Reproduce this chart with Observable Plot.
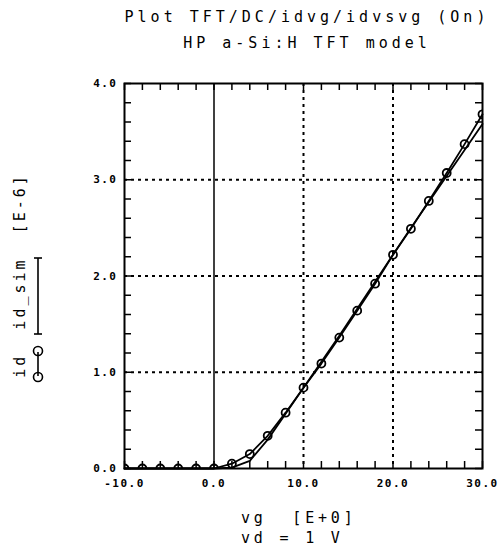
<!DOCTYPE html>
<html><head><meta charset="utf-8">
<script src="https://cdn.jsdelivr.net/npm/d3@7"></script>
<script src="https://cdn.jsdelivr.net/npm/@observablehq/plot@0.6"></script>
<style>
body{margin:0;background:#fff;}
#chart{width:498px;height:548px;}
</style></head><body><div id="chart"></div>
<script>
// ---- data ----
const vg     = [-10, -8, -6, -4, -2, 0, 2, 4, 6, 8, 10, 12, 14, 16, 18, 20, 22, 24, 26, 28, 30];
const idMeas = [0, 0, 0, 0, 0, 0, 0.05, 0.15, 0.34, 0.58, 0.84, 1.09, 1.36, 1.64, 1.92, 2.22, 2.49, 2.78, 3.07, 3.37, 3.68];
const idSim  = [0, 0, 0, 0, 0, 0, 0.01, 0.08, 0.30, 0.57, 0.84, 1.11, 1.38, 1.66, 1.94, 2.22, 2.50, 2.77, 3.04, 3.31, 3.58];
const xTickValues = [-10, 0, 10, 20, 30];
const yTickValues = [0, 1, 2, 3, 4];
const xGridValues = [10, 20];
const yGridValues = [1, 2, 3];
const xTickLabels = ["-10.0", "0.0", "10.0", "20.0", "30.0"];
const yTickLabels = ["0.0", "1.0", "2.0", "3.0", "4.0"];
const titleLines  = ["Plot TFT/DC/idvg/idvsvg (On)", "HP a-Si:H TFT model"];
const xLabelLines = ["vg  [E+0]", "vd = 1 V"];
const yLabel      = "id  id_sim  [E-6]";

const meas = vg.map((v, i) => ({vg: v, id: idMeas[i]}));
const sim  = vg.map((v, i) => ({vg: v, id: idSim[i]}));
const xMinor = d3.range(-10, 30.01, 2);
const yMinor = d3.range(0, 4.001, 0.2);

const W = 498, H = 548, mL = 124, mR = 16, mT = 83, mB = 80;
const pw = W - mL - mR, ph = H - mT - mB;
const mono = "'DejaVu Sans Mono', monospace";

const plot = Plot.plot({
  width: W, height: H,
  marginLeft: mL, marginRight: mR, marginTop: mT, marginBottom: mB,
  style: {fontFamily: mono, background: "white", color: "black", overflow: "visible"},
  x: {domain: [-10, 30], axis: null},
  y: {domain: [0, 4], axis: null},
  marks: [
    Plot.ruleX(xGridValues, {stroke: "black", strokeWidth: 2, strokeDasharray: "3,4"}),
    Plot.ruleY(yGridValues, {stroke: "black", strokeWidth: 2, strokeDasharray: "3,4"}),
    Plot.ruleX([0], {stroke: "black", strokeWidth: 1.5}),
    // inward minor ticks
    Plot.tickX(xMinor, {x: d => d, insetTop: ph - 7, stroke: "black", strokeWidth: 1.5}),
    Plot.tickX(xMinor, {x: d => d, insetBottom: ph - 7, stroke: "black", strokeWidth: 1.5}),
    Plot.tickY(yMinor, {y: d => d, insetRight: pw - 7, stroke: "black", strokeWidth: 1.5}),
    Plot.tickY(yMinor, {y: d => d, insetLeft: pw - 7, stroke: "black", strokeWidth: 1.5}),
    Plot.frame({stroke: "black", strokeWidth: 2}),
    // curves
    Plot.line(sim,  {x: "vg", y: "id", stroke: "black", strokeWidth: 1.8}),
    Plot.line(meas, {x: "vg", y: "id", stroke: "black", strokeWidth: 1.8}),
    Plot.dot(meas, {x: "vg", y: "id", r: 4, stroke: "black", strokeWidth: 1.8, fill: "none", clip: true, ariaLabel: "meas-dots"}),
    // tick labels
    Plot.text(xTickValues, {x: d => d, frameAnchor: "bottom", dy: 18, text: (d, i) => xTickLabels[i],
      fontSize: 11, fontWeight: "bold", fill: "black"}),
    Plot.text(yTickValues, {y: d => d, frameAnchor: "left", dx: -7, textAnchor: "end", text: (d, i) => yTickLabels[i],
      fontSize: 11, fontWeight: "bold", fill: "black"})
  ]
});

const svg = d3.select(plot);
svg.selectAll("text").style("letter-spacing", "1.5px");
// make sure the baseline markers are cut by the frame (half circles, as in the reference)
svg.append("defs").append("clipPath").attr("id", "frameclip")
  .append("rect").attr("x", mL).attr("y", mT).attr("width", pw).attr("height", ph);
svg.selectAll("g[aria-label='meas-dots']").attr("clip-path", "url(#frameclip)");

const cx = mL + pw / 2;
// titles
svg.append("g").attr("font-family", mono).attr("font-size", 15).attr("fill", "black")
  .attr("text-anchor", "middle").style("letter-spacing", "4px")
  .selectAll("text").data(titleLines).join("text")
  .attr("x", cx + 4).attr("y", (d, i) => 22 + i * 26).text(d => d);
// x axis label
svg.append("g").attr("font-family", mono).attr("font-size", 15).attr("fill", "black")
  .attr("text-anchor", "start").style("letter-spacing", "3.8px")
  .selectAll("text").data(xLabelLines).join("text")
  .attr("x", 241).attr("y", (d, i) => 523 + i * 20).text(d => d);
// y axis label (rotated)
svg.append("text").attr("font-family", mono).attr("font-size", 15).attr("fill", "black")
  .attr("text-anchor", "middle").style("letter-spacing", "3px")
  .attr("transform", `translate(25,${mT + ph / 2}) rotate(-90)`).text(yLabel);
// legend symbols
const lg = svg.append("g").attr("stroke", "black").attr("stroke-width", 1.6).attr("fill", "none");
lg.append("line").attr("x1", 38).attr("x2", 38).attr("y1", 352).attr("y2", 376);
lg.append("circle").attr("cx", 38).attr("cy", 377).attr("r", 4.5);
lg.append("circle").attr("cx", 38).attr("cy", 351).attr("r", 4.5);
lg.append("line").attr("x1", 38).attr("x2", 38).attr("y1", 258).attr("y2", 334);
lg.append("line").attr("x1", 34).attr("x2", 42).attr("y1", 258).attr("y2", 258);
lg.append("line").attr("x1", 34).attr("x2", 42).attr("y1", 334).attr("y2", 334);

document.getElementById("chart").appendChild(plot);
</script></body></html>
